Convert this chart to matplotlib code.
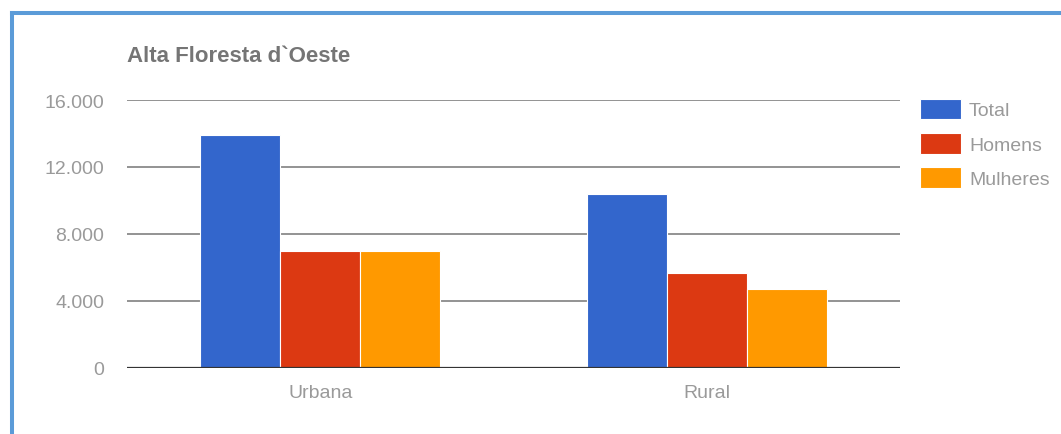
import matplotlib
matplotlib.use('Agg')
import matplotlib.pyplot as plt
import matplotlib.lines as mlines
from matplotlib.ticker import FuncFormatter
import numpy as np

plt.rcParams['font.family'] = ['Liberation Sans', 'DejaVu Sans']

title = "Alta Floresta d`Oeste"
categories = ['Urbana', 'Rural']
series_names = ['Total', 'Homens', 'Mulheres']
total = [13900, 10370]
homens = [6950, 5630]
mulheres = [6950, 4670]
yticks = [0, 4000, 8000, 12000, 16000]

colours = ['#3366cc', '#dc3912', '#ff9900']
text_grey = '#9a9a9a'

fig = plt.figure(figsize=(10.61, 4.35), dpi=100)
ax = fig.add_axes([127/1061, 66.5/435, 773/1061, 267.5/435])

x = np.arange(len(categories))
w = 0.207
for i, (vals, c) in enumerate(zip([total, homens, mulheres], colours)):
    ax.bar(x + (i - 1) * w, vals, width=w, color=c, edgecolor='white',
           linewidth=0.8, zorder=3, label=series_names[i])

ax.set_xlim(-0.5, 1.5)
ax.set_ylim(0, 16000)
ax.set_yticks(yticks)
ax.yaxis.set_major_formatter(FuncFormatter(lambda v, p: f'{int(v):,}'.replace(',', '.')))
ax.set_xticks(x)
ax.set_xticklabels(categories)
ax.tick_params(axis='both', length=0, labelsize=14, colors=text_grey)
ax.tick_params(axis='y', pad=16.5)
ax.tick_params(axis='x', pad=12)

for t in yticks[1:]:
    ax.axhline(t, color='#8a8a8a', linewidth=1.3, zorder=1)
ax.axhline(0, color='#333333', linewidth=1.6, zorder=4)
for s in ax.spines.values():
    s.set_visible(False)

fig.text(127/1061, (435-62)/435, title, fontsize=16, fontweight='bold',
         color='#757575', va='baseline', ha='left')

leg = ax.legend(loc='upper left', bbox_to_anchor=(920/1061, (435-99.5)/435),
                bbox_transform=fig.transFigure, frameon=False, fontsize=14,
                handlelength=2.1, handleheight=1.28, handletextpad=0.42,
                labelspacing=0.69, borderpad=0, borderaxespad=0)
for t in leg.get_texts():
    t.set_color(text_grey)

# blue frame along the left and top edges
fig.add_artist(mlines.Line2D([11.5/1061, 11.5/1061], [0, (435-13.5)/435],
                             color='#5b9bd8', linewidth=2.9, transform=fig.transFigure,
                             solid_capstyle='projecting'))
fig.add_artist(mlines.Line2D([11.5/1061, 1], [(435-13.5)/435, (435-13.5)/435],
                             color='#5b9bd8', linewidth=2.9, transform=fig.transFigure,
                             solid_capstyle='projecting'))

fig.savefig('out.png', dpi=100)
